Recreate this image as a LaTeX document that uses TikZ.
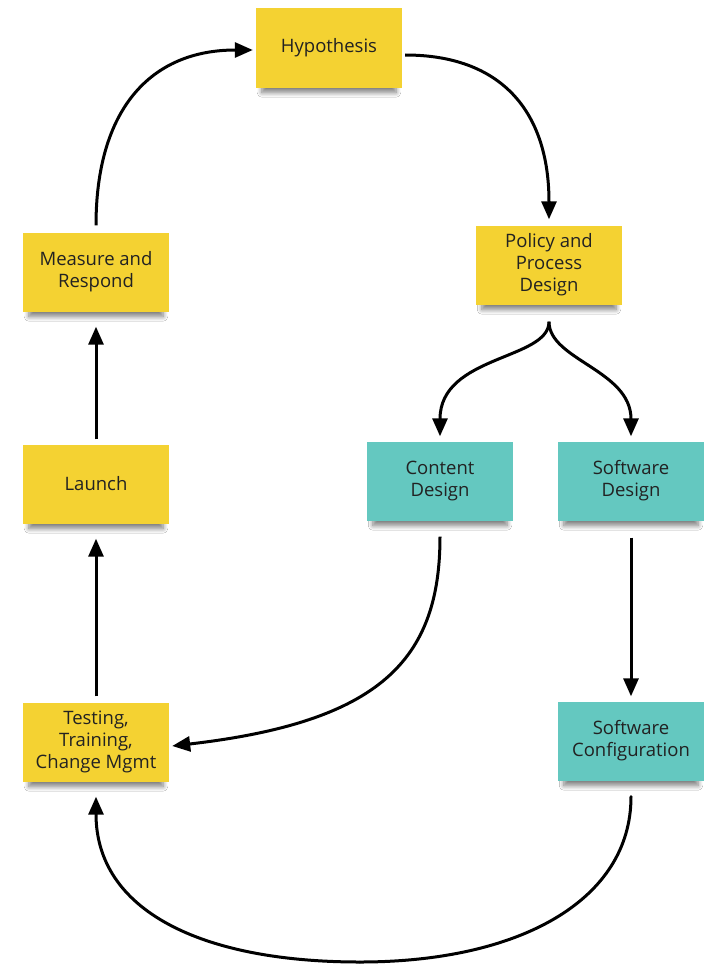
\documentclass[tikz,border=0pt]{standalone}
\usepackage{fontspec}
\setmainfont{Open Sans}
\usetikzlibrary{arrows.meta,shadows.blur}
\definecolor{noteyellow}{HTML}{F4D232}
\definecolor{noteteal}{HTML}{64C8C0}
\definecolor{notetext}{HTML}{222222}
\tikzset{
  sticky/.style={rectangle, minimum width=146pt, minimum height=79pt, inner sep=2pt,
    align=center, text=notetext, font=\fontsize{18.5}{22}\selectfont,
    blur shadow={shadow xshift=0pt, shadow yshift=-9pt, shadow scale=0.92,
      shadow opacity=50, shadow blur steps=8, shadow blur radius=5pt}},
  yellownote/.style={sticky, fill=noteyellow},
  tealnote/.style={sticky, fill=noteteal},
  flow/.style={line width=3pt, draw=black,
    -{Triangle[length=18pt, width=15pt]}}
}
\begin{document}
\begin{tikzpicture}[x=1pt, y=-1pt]
\useasboundingbox (0,0) rectangle (705,966);
\fill[white] (0,0) rectangle (705,966);

% sticky notes
\node[yellownote] (hyp)    at (329,48)  {Hypothesis};
\node[yellownote] (policy) at (549,265) {Policy and\\Process\\Design};
\node[yellownote] (meas)   at (96,272)  {Measure and\\Respond};
\node[yellownote] (launch) at (96,484)  {Launch};
\node[tealnote]   (cont)   at (440,481) {Content\\Design};
\node[tealnote]   (swd)    at (631,481) {Software\\Design};
\node[yellownote] (test)   at (96,742)  {Testing,\\Training,\\Change Mgmt};
\node[tealnote]   (swc)    at (631,741) {Software\\Configuration};

% cycle connectors
\draw[flow] ([yshift=7pt]meas.north) .. controls (96,110) and (150,50) .. ([xshift=-3pt,yshift=-2pt]hyp.west);
\draw[flow] ([xshift=3pt,yshift=-7pt]hyp.east) .. controls (500,55) and (549,110) .. ([yshift=6pt]policy.north);
\draw[flow] ([yshift=-17pt]policy.south) .. controls (549,360) and (440,355) .. ([yshift=5pt]cont.north);
\draw[flow] ([yshift=-17pt]policy.south) .. controls (549,360) and (631,370) .. ([yshift=5pt]swd.north);
\draw[flow] ([yshift=-17pt]swd.south) -- ([yshift=5pt]swc.north);
\draw[flow] ([yshift=-16pt]cont.south) .. controls (440,660) and (380,722) .. ([xshift=3pt,yshift=-4pt]test.east);
\coordinate (low) at (360,962);
\draw[line width=3pt, line cap=round] ([yshift=-16pt]swc.south) .. controls (631,900) and (520,962) .. (low);
\draw[flow] (low) .. controls (200,962) and (96,910) .. ([yshift=-15pt]test.south);
\draw[flow] ([yshift=6pt]test.north) -- ([yshift=-15pt]launch.south);
\draw[flow] ([yshift=5pt]launch.north) -- ([yshift=-15pt]meas.south);
\end{tikzpicture}
\end{document}
